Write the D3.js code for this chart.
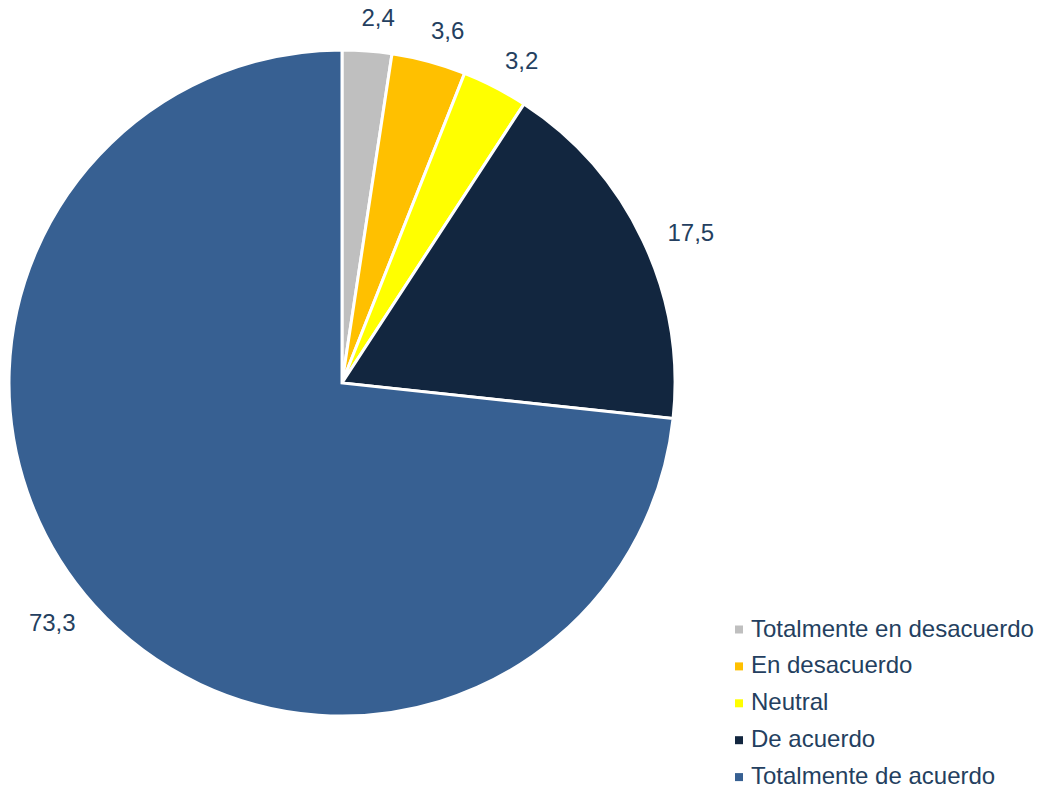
<!DOCTYPE html>
<html>
<head>
<meta charset="utf-8">
<script src="https://cdn.jsdelivr.net/npm/d3@7"></script>
<style>
  html, body { margin: 0; padding: 0; background: #fff; }
  svg { display: block; }
  text { font-family: Arial, "Liberation Sans", sans-serif; }
</style>
</head>
<body>
<svg id="chart" width="1038" height="789"></svg>
<script>
const categories = ["Totalmente en desacuerdo", "En desacuerdo", "Neutral", "De acuerdo", "Totalmente de acuerdo"];
const values = [2.4, 3.6, 3.2, 17.5, 73.3];
const valueLabels = ["2,4", "3,6", "3,2", "17,5", "73,3"];
const colors = ["#BFBFBF", "#FFC000", "#FFFF00", "#12263F", "#376092"];

const W = 1038, H = 789;
const cx = 342, cy = 383, R = 333;
const textColor = "#243F60";
const fontSize = 24;

const svg = d3.select("#chart");
const data = categories.map((c, i) => ({ cat: c, value: values[i], label: valueLabels[i], color: colors[i] }));

const pie = d3.pie().sort(null).value(d => d.value).startAngle(0).endAngle(2 * Math.PI);
const arcs = pie(data);
const arc = d3.arc().innerRadius(0).outerRadius(R);

const g = svg.append("g").attr("transform", `translate(${cx},${cy})`);
g.selectAll("path.slice")
  .data(arcs)
  .join("path")
  .attr("class", "slice")
  .attr("d", arc)
  .attr("fill", d => d.data.color)
  .attr("stroke", "#fff")
  .attr("stroke-width", 3)
  .attr("stroke-linejoin", "miter");

// Data labels: outside end
const gap = 26, angleShift = 0.021;
const labelG = g.append("g");
arcs.forEach(a => {
  const mid = (a.startAngle + a.endAngle) / 2 + angleShift;
  const s = Math.sin(mid), c = Math.cos(mid);
  const t = labelG.append("text")
    .attr("font-size", fontSize)
    .attr("fill", textColor)
    .attr("text-anchor", "middle")
    .attr("dominant-baseline", "central")
    .text(a.data.label);
  const bb = t.node().getBBox();
  const w = bb.width, h = fontSize * 0.72;
  const x = s * (R + gap) + s * w / 2;
  const y = -c * (R + gap) - c * h / 2;
  t.attr("x", x).attr("y", y);
});

// Legend
const legend = svg.append("g").attr("transform", "translate(735,0)");
const rowStep = 36.9, firstBaseline = 636.5;
data.forEach((d, i) => {
  const yb = firstBaseline + i * rowStep;
  legend.append("rect")
    .attr("x", 0).attr("y", yb - 11)
    .attr("width", 8).attr("height", 8)
    .attr("fill", d.color);
  legend.append("text")
    .attr("x", 16).attr("y", yb)
    .attr("font-size", fontSize)
    .attr("fill", textColor)
    .text(d.cat);
});
</script>
</body>
</html>
